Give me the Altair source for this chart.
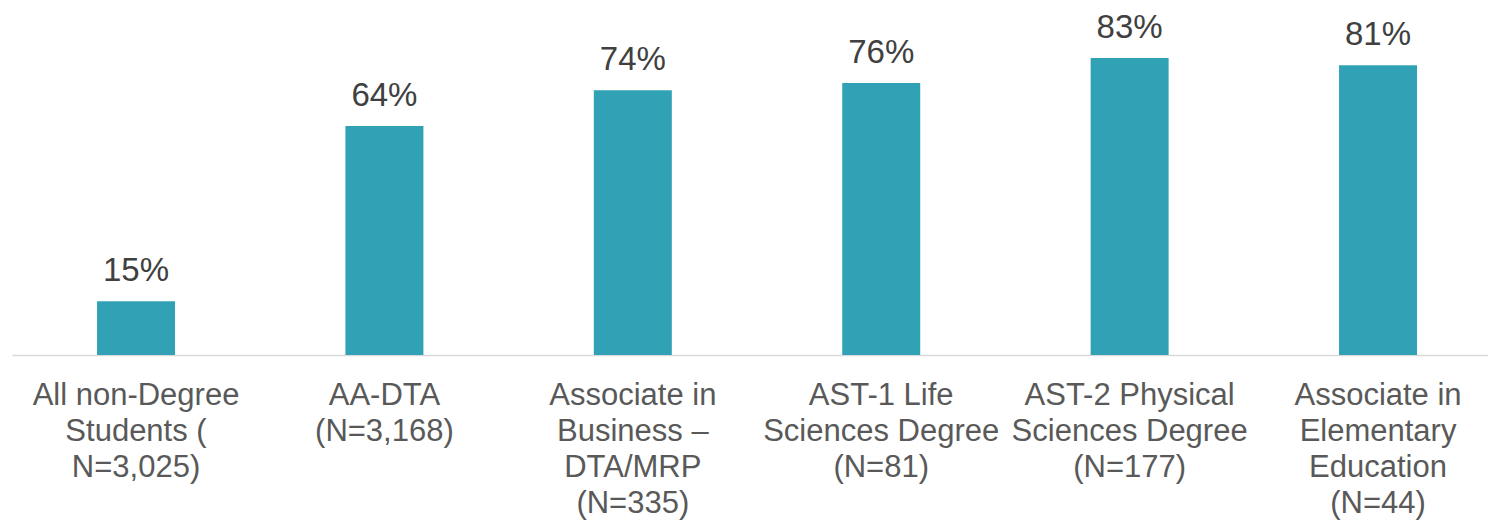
import altair as alt
import pandas as pd

# Share of students by program (percent), with group sizes in the labels
categories = [
    "All non-Degree\nStudents (\nN=3,025)",
    "AA-DTA\n(N=3,168)",
    "Associate in\nBusiness –\nDTA/MRP\n(N=335)",
    "AST-1 Life\nSciences Degree\n(N=81)",
    "AST-2 Physical\nSciences Degree\n(N=177)",
    "Associate in\nElementary\nEducation\n(N=44)",
]
values = [15, 64, 74, 76, 83, 81]

df = pd.DataFrame({"program": categories, "pct": values})
df["label"] = df["pct"].astype(str) + "%"

BAR = "#31A2B5"
FONT = "Liberation Sans"

x = alt.X(
    "program:N",
    sort=categories,
    scale=alt.Scale(paddingInner=0.686, paddingOuter=0.314, align=0.545),
    axis=alt.Axis(
        title=None,
        labelAngle=0,
        labelExpr="split(datum.label, '\\n')",
        labelFontSize=31,
        labelLineHeight=36,
        labelColor="#595959",
        labelFont=FONT,
        labelPadding=25,
        labelLimit=400,
        ticks=False,
        domainColor="#D9D9D9",
        domainWidth=1.5,
        grid=False,
    ),
)
y = alt.Y(
    "pct:Q",
    scale=alt.Scale(domain=[0, 90], nice=False, zero=True),
    axis=None,
)

bars = alt.Chart(df).mark_bar(color=BAR).encode(x=x, y=y)

text = alt.Chart(df).mark_text(
    baseline="alphabetic",
    dy=-20,
    fontSize=33,
    font=FONT,
    color="#404040",
).encode(x=x, y=y, text="label:N")

chart = (
    alt.layer(bars, text)
    .properties(
        width=1476,
        height=322,
        background="white",
        autosize=alt.AutoSizeParams(type="none"),
        padding={"left": 12, "top": 33, "right": 0, "bottom": 165},
    )
    .configure_view(stroke=None, strokeWidth=0)
)

chart.save("out.html", embed_options={"renderer": "svg", "actions": False})
